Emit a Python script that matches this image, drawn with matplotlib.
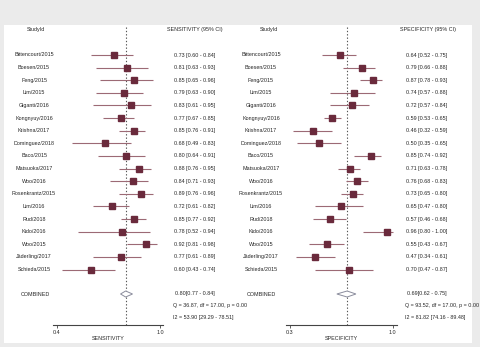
import numpy as np
import matplotlib
matplotlib.use("Agg")
import matplotlib.pyplot as plt
import matplotlib.transforms as mtransforms
from matplotlib.patches import Rectangle

plt.rcParams['font.family'] = ['Liberation Sans', 'DejaVu Sans']

# study data
studies = ['Bittencourt/2015', 'Boesen/2015', 'Feng/2015', 'Lim/2015', 'Giganti/2016',
           'Kongnyuy/2016', 'Krishna/2017', 'Dominguez/2018', 'Baco/2015', 'Matsuoka/2017',
           'Woo/2016', 'Rosenkrantz/2015', 'Lim/2016', 'Rud/2018', 'Kido/2016', 'Woo/2015',
           'Jäderling/2017', 'Schieda/2015']

sens = [0.73, 0.81, 0.85, 0.79, 0.83, 0.77, 0.85, 0.68, 0.80, 0.88, 0.84, 0.89, 0.72, 0.85, 0.78, 0.92, 0.77, 0.60]
sens_lo = [0.60, 0.63, 0.65, 0.63, 0.61, 0.67, 0.76, 0.49, 0.64, 0.76, 0.71, 0.76, 0.61, 0.77, 0.52, 0.81, 0.61, 0.43]
sens_hi = [0.84, 0.93, 0.96, 0.90, 0.95, 0.85, 0.91, 0.83, 0.91, 0.95, 0.93, 0.96, 0.82, 0.92, 0.94, 0.98, 0.89, 0.74]
sens_pooled = [0.80, 0.77, 0.84]
sens_q = "Q = 36.87, df = 17.00, p = 0.00"
sens_i2 = "I2 = 53.90 [29.29 - 78.51]"

spec = [0.64, 0.79, 0.87, 0.74, 0.72, 0.59, 0.46, 0.50, 0.85, 0.71, 0.76, 0.73, 0.65, 0.57, 0.96, 0.55, 0.47, 0.70]
spec_lo = [0.52, 0.66, 0.78, 0.57, 0.57, 0.53, 0.32, 0.35, 0.74, 0.63, 0.68, 0.65, 0.47, 0.46, 0.80, 0.43, 0.34, 0.47]
spec_hi = [0.75, 0.88, 0.93, 0.88, 0.84, 0.65, 0.59, 0.65, 0.92, 0.78, 0.83, 0.80, 0.80, 0.68, 1.00, 0.67, 0.61, 0.87]
spec_pooled = [0.69, 0.62, 0.75]
spec_q = "Q = 93.52, df = 17.00, p = 0.00"
spec_i2 = "I2 = 81.82 [74.16 - 89.48]"

W, H = 481, 347
FS = 3.9
TXT = '#262626'
MARK = '#6a2a3c'
LINE = '#9c6a75'

fig = plt.figure(figsize=(W / 100, H / 100), dpi=100, facecolor='#ebebeb')
fig.patches.append(Rectangle((4 / W, 1 - 343 / H), 468 / W, 318 / H,
                             transform=fig.transFigure, facecolor='white', edgecolor='none', zorder=-10))

# row layout (pixel based)
row0, step = 55, 12.62
def yrow(py):
    return (py - row0) / step

y_comb, y_q, y_i2, y_head = yrow(294), yrow(305.5), yrow(318), yrow(30)


def panel(x0, x1, xlim, ticks, est, lo, hi, pooled, q, i2, title, xlabel,
          name_x, head_x, val_x, comb_x):
    ax = fig.add_axes([x0 / W, 1 - 325 / H, (x1 - x0) / W, 300 / H])
    ax.set_facecolor('none')
    ax.set_xlim(xlim)
    ax.set_ylim(yrow(325), yrow(25))
    for s in ['top', 'right', 'left']:
        ax.spines[s].set_visible(False)
    ax.spines['bottom'].set_color('#444444')
    ax.spines['bottom'].set_linewidth(0.8)
    ax.set_yticks([])
    ax.set_xticks(ticks)
    ax.set_xticklabels(['%.1f' % t for t in ticks])
    ax.tick_params(axis='x', length=2.5, width=0.6, pad=1, labelsize=FS, colors='#444444', labelcolor=TXT)
    ax.set_xlabel(xlabel, fontsize=FS, color=TXT, labelpad=1)

    ax.axvline(pooled[0], color='#555555', linestyle=(0, (1.2, 1.8)), linewidth=0.8, zorder=1)

    ys = np.arange(len(est))
    ax.hlines(ys, lo, hi, color=LINE, linewidth=0.8, zorder=2)
    ax.plot(est, ys, 's', color=MARK, markersize=4.2, zorder=3)

    dh = 3.0 / step
    ax.fill([pooled[1], pooled[0], pooled[2], pooled[0]],
            [y_comb, y_comb - dh, y_comb, y_comb + dh],
            facecolor='white', edgecolor='#8a8c9c', linewidth=0.7, zorder=3)

    tr = mtransforms.blended_transform_factory(fig.transFigure, ax.transData)
    kw = dict(transform=tr, fontsize=FS, color=TXT, va='center', clip_on=False)
    ax.text(head_x[0] / W, y_head, 'StudyId', ha='center', **kw)
    ax.text(head_x[1] / W, y_head, title, ha='center', **kw)
    for i, name in enumerate(studies):
        ax.text(name_x / W, i, name, ha='center', **kw)
        ax.text(val_x / W, i, '%.2f [%.2f - %.2f]' % (est[i], lo[i], hi[i]), ha='left', **kw)
    ax.text(comb_x / W, y_comb, 'COMBINED', ha='center', **kw)
    ax.text((val_x + 1) / W, y_comb, '%.2f[%.2f - %.2f]' % tuple(pooled), ha='left', **kw)
    ax.text((val_x - 1) / W, y_q, q, ha='left', **kw)
    ax.text((val_x - 1) / W, y_i2, i2, ha='left', **kw)
    return ax


panel(52.7, 163, (0.375, 1.0175), [0.4, 1.0], sens, sens_lo, sens_hi, sens_pooled,
      sens_q, sens_i2, 'SENSITIVITY (95% CI)', 'SENSITIVITY',
      34, (36, 195), 174, 35.5)
panel(286, 397, (0.2727, 1.0307), [0.3, 1.0], spec, spec_lo, spec_hi, spec_pooled,
      spec_q, spec_i2, 'SPECIFICITY (95% CI)', 'SPECIFICITY',
      261, (269, 428.5), 406.5, 261)

fig.savefig('out.png', dpi=100, facecolor=fig.get_facecolor())
